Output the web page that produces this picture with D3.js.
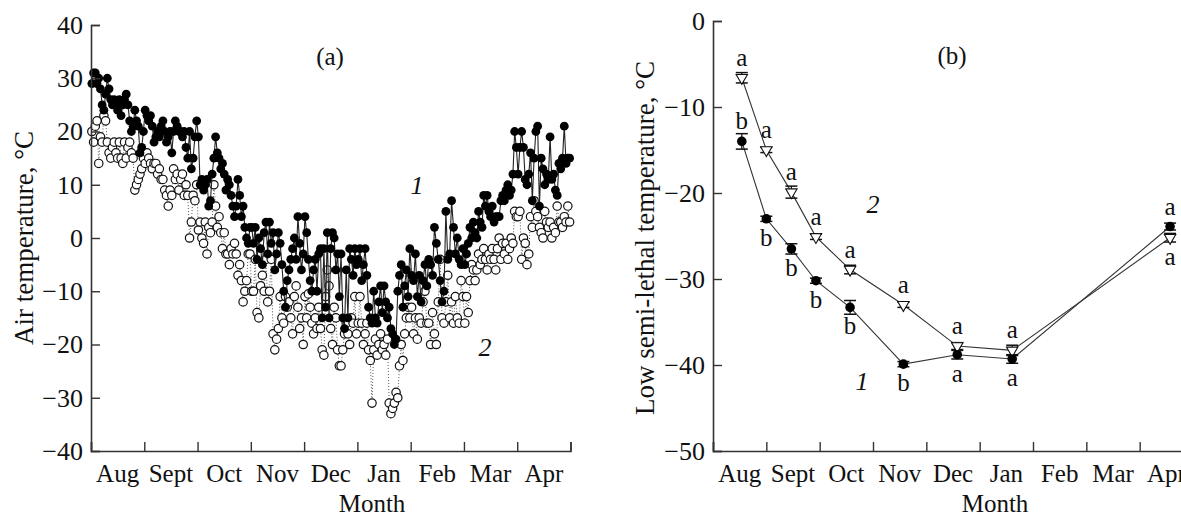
<!DOCTYPE html>
<html>
<head>
<meta charset="utf-8">
<script src="https://d3js.org/d3.v7.min.js"></script>
<style>
  body { margin: 0; background: white; }
  text { font-family: "Liberation Serif", "DejaVu Serif", serif; fill: #111; }
</style>
</head>
<body>
<script>
  // month labels shared by both panels
  const months = ["Aug", "Sept", "Oct", "Nov", "Dec", "Jan", "Feb", "Mar", "Apr"];

  // (a) daily maximum air temperature, one list per month
  const tMax = [
    [29, 31, 31, 29, 30, 28, 25, 24, 27, 30, 28, 26, 25, 26, 25, 24, 26, 23, 25, 26, 27, 25, 22, 20, 21, 24, 22, 21, 16, 17, 20],
    [24, 23, 22, 23, 21, 18, 19, 20, 19, 21, 22, 20, 18, 19, 20, 16, 20, 22, 21, 20, 20, 19, 20, 17, 15, 20, 13, 15, 19, 22],
    [19, 10, 11, 9, 10, 11, 6, 7, 12, 15, 19, 16, 15, 13, 14, 12, 9, 11, 10, 8, 6, 4, 6, 11, 8, 4, 6, 2, 0, -1, 2],
    [2, -1, 2, -4, 0, -2, -5, 1, 3, -3, 3, -1, 1, -6, -3, 1, -1, -5, -10, -13, -8, -6, -4, -2, 0, -4, 4, -1, -6, -3],
    [4, 1, -4, -8, -10, -6, -4, -10, -3, -2, -15, -2, -13, 1, -15, -2, 1, 0, -6, -3, -11, -3, -15, -17, -6, -15, -2, -4, -7, -2, -5],
    [-4, -2, -8, -5, -2, -7, -13, -15, -16, -10, -15, -16, -12, -9, -14, -9, -12, -15, -13, -17, -18, -20, -19, -10, -7, -5, -13, -9, -6, -11, -2],
    [-7, -8, -3, -11, -7, -12, -8, -5, -9, -4, -5, -7, 2, -1, -4, -8, -12, -10, 5, -4, -3, 7, 2, -3, 0, -4, -5, -2],
    [-5, -3, -1, 2, 0, 3, 1, 0, 5, 3, 2, 8, 6, 8, 5, 4, 6, 3, 4, 4, 4, 7, 8, 7, 9, 10, 8, 9, 12, 20, 17],
    [12, 17, 20, 17, 11, 10, 12, 16, 7, 15, 20, 21, 6, 15, 13, 10, 12, 11, 19, 11, 12, 9, 8, 14, 13, 15, 21, 14, 15, 15]
  ];

  // (a) daily minimum air temperature, one list per month
  const tMin = [
    [20, 18, 21, 22, 14, 19, 18, 23, 22, 18, 16, 15, 17, 18, 16, 15, 18, 15, 14, 18, 15, 17, 18, 16, 15, 9, 10, 11, 12, 13, 15],
    [14, 16, 15, 14, 13, 14, 14, 12, 13, 11, 11, 9, 8, 6, 9, 8, 13, 11, 12, 9, 11, 12, 8, 10, 8, 0, 3, 8, 7, 10],
    [1.5, 3, 0, -1, 3, -3, 2, 1, 3, 10, 6, 2, 4, 1, -2, 1, -3, -3, -5, -2, -3, -1, -3, -7, -5, -8, -12, -10, -8, -3, -3],
    [-10, -10, -4, -14, -15, -9, -7, -10, -4, -12, -10, -4, -18, -21, -19, -17, -11, -15, -16, -11, -13, -12, -15, -18, -11, -9, -13, -17, -15, -20],
    [-11, -15, -10.5, -13, -16, -18, -15, -17, -13, -17, -21, -22, -11, -6, -9, -17, -20, -13, -15, -21, -24, -24, -21, -18, -16, -18, -20, -15, -16, -11, -18],
    [-16, -11, -16, -20, -18, -16, -21, -23, -31, -21, -19, -22, -20, -18, -21, -20, -22, -19, -31, -33, -32, -31, -29, -30, -24, -20, -23, -18, -15, -13, -15],
    [-13, -18, -15, -19, -15, -16, -12, -10, -16, -16, -20, -14, -18, -20, -12, -4, -15, -16, -12, -7, -15, -12, -16, -11, -15, -16, -8, -11],
    [-16, -11, -14, -8, -5, -6, -8, -6, -3, -5, -4, -2, -4, -6, -3, -4, -2, -4, -6, -2, 0, -4, -1, -3, -1, -4, -2, 0, -1, 5, 4],
    [4, 5, -4, 0, -1, -5, -3, 4, 2, 7, 5, 4, 2, 1, 0, 5, 3, 2, 3, 0, 2, 1, 6, 3, 3, 2, 4, 3, 6, 3]
  ];

  // (b) sampling dates (months since 1 Aug) and low semi-lethal temperatures
  const sampleMonth = [0.54, 1.0, 1.47, 1.93, 2.57, 3.57, 4.58, 5.61, 8.57];
  const lethal1 = [-14, -23.0, -26.5, -30.2, -33.3, -39.9, -38.8, -39.3, -23.9];
  const lethal2 = [-6.6, -15.0, -19.9, -25.1, -28.9, -33.0, -37.8, -38.3, -25.2];
  const err1 = [0.9, 0.3, 0.6, 0.3, 0.8, 0.3, 0.5, 0.5, 0.4];
  const err2 = [0.6, 0.3, 0.7, 0.3, 0.5, 0.3, 0.4, 0.6, 0.5];
  const letters1 = ["b", "b", "b", "b", "b", "b", "a", "a", "a"];
  const letters2 = ["a", "a", "a", "a", "a", "a", "a", "a", "a"];
  const letterAbove1 = [true, false, false, false, false, false, false, false, true];
  const letterAbove2 = [true, true, true, true, true, true, true, true, false];

  const svg = d3.select("body").append("svg")
    .attr("width", 1181)
    .attr("height", 517);

  svg.append("rect").attr("width", 1181).attr("height", 517).attr("fill", "white");

  // flatten daily values into month positions
  function daily(series) {
    const out = [];
    series.forEach((vals, m) => {
      vals.forEach((v, i) => out.push({ m: m + (i + 0.5) / vals.length, v: v }));
    });
    return out;
  }

  function drawAxes(g, x, y, ticks) {
    const band = d3.scaleBand().domain(months).range(x.range());

    g.append("g")
      .attr("transform", "translate(0," + y.range()[0] + ")")
      .call(d3.axisBottom(x).tickValues(d3.range(0, 10)).tickSize(-9).tickFormat(""))
      .call(a => a.select(".domain").attr("stroke", "#333").attr("stroke-width", 1.6));

    g.append("g")
      .attr("transform", "translate(0," + y.range()[0] + ")")
      .call(d3.axisBottom(band).tickSize(0).tickPadding(13))
      .call(a => a.select(".domain").remove())
      .selectAll("text")
      .style("font-size", "25px")
      .attr("fill", "#111");

    g.append("g")
      .attr("transform", "translate(" + x.range()[0] + ",0)")
      .call(d3.axisLeft(y).tickValues(ticks).tickSize(-9).tickPadding(8)
        .tickFormat(d => d < 0 ? "\u2212" + Math.abs(d) : d))
      .call(a => a.select(".domain").attr("stroke", "#333").attr("stroke-width", 1.6))
      .selectAll("text")
      .style("font-size", "26px")
      .attr("fill", "#111");

    g.selectAll(".tick line").attr("stroke", "#333").attr("stroke-width", 1.4);
  }

  // ---------- panel (a) ----------
  const xa = d3.scaleLinear().domain([0, 9]).range([91, 570.5]);
  const ya = d3.scaleLinear().domain([-40, 40]).range([451, 25]);
  const ga = svg.append("g");

  const minPts = daily(tMin);
  const maxPts = daily(tMax);

  const lineA = d3.line().x(d => xa(d.m)).y(d => ya(d.v));

  ga.append("path")
    .attr("d", lineA(minPts))
    .attr("fill", "none")
    .attr("stroke", "#555")
    .attr("stroke-width", 1)
    .attr("stroke-dasharray", "1,2");

  ga.selectAll(".minpt").data(minPts).join("circle")
    .attr("class", "minpt")
    .attr("cx", d => xa(d.m))
    .attr("cy", d => ya(d.v))
    .attr("r", 4.2)
    .attr("fill", "white")
    .attr("stroke", "#111")
    .attr("stroke-width", 1.2);

  ga.append("path")
    .attr("d", lineA(maxPts))
    .attr("fill", "none")
    .attr("stroke", "#222")
    .attr("stroke-width", 1.1);

  ga.selectAll(".maxpt").data(maxPts).join("circle")
    .attr("class", "maxpt")
    .attr("cx", d => xa(d.m))
    .attr("cy", d => ya(d.v))
    .attr("r", 4.4)
    .attr("fill", "black");

  drawAxes(ga, xa, ya, d3.range(-40, 41, 10));

  ga.append("text")
    .attr("transform", "translate(33,238) rotate(-90)")
    .attr("text-anchor", "middle")
    .style("font-size", "27px")
    .text("Air temperature, \u00B0C");

  ga.append("text")
    .attr("x", 372).attr("y", 512)
    .attr("text-anchor", "middle")
    .style("font-size", "25px")
    .text("Month");

  ga.append("text")
    .attr("x", 330).attr("y", 65)
    .attr("text-anchor", "middle")
    .style("font-size", "25px")
    .text("(a)");

  ga.append("text")
    .attr("x", 417).attr("y", 194)
    .attr("text-anchor", "middle")
    .style("font-size", "26px")
    .style("font-style", "italic")
    .text("1");

  ga.append("text")
    .attr("x", 485).attr("y", 356)
    .attr("text-anchor", "middle")
    .style("font-size", "26px")
    .style("font-style", "italic")
    .text("2");

  // ---------- panel (b) ----------
  const xb = d3.scaleLinear().domain([0, 9]).range([713, 1193]);
  const yb = d3.scaleLinear().domain([-50, 0]).range([451, 21]);
  const gb = svg.append("g");

  drawAxes(gb, xb, yb, d3.range(-50, 1, 10));

  const lineB = d3.line().x((d, i) => xb(sampleMonth[i])).y(d => yb(d));

  [lethal1, lethal2].forEach(s => {
    gb.append("path")
      .attr("d", lineB(s))
      .attr("fill", "none")
      .attr("stroke", "#333")
      .attr("stroke-width", 1.1);
  });

  function errorBars(vals, errs) {
    vals.forEach((v, i) => {
      const cx = xb(sampleMonth[i]);
      const y0 = yb(v + errs[i]);
      const y1 = yb(v - errs[i]);
      gb.append("line").attr("x1", cx).attr("x2", cx).attr("y1", y0).attr("y2", y1)
        .attr("stroke", "#111").attr("stroke-width", 1.2);
      [y0, y1].forEach(yy => {
        gb.append("line").attr("x1", cx - 6).attr("x2", cx + 6).attr("y1", yy).attr("y2", yy)
          .attr("stroke", "#111").attr("stroke-width", 1.5);
      });
    });
  }
  errorBars(lethal2, err2);
  errorBars(lethal1, err1);

  const tri = d3.symbol().type(d3.symbolTriangle).size(56);
  gb.selectAll(".tri").data(lethal2).join("path")
    .attr("class", "tri")
    .attr("d", tri)
    .attr("transform", (d, i) => "translate(" + xb(sampleMonth[i]) + "," + yb(d) + ") rotate(180)")
    .attr("fill", "white")
    .attr("stroke", "#111")
    .attr("stroke-width", 1.1);

  gb.selectAll(".dot").data(lethal1).join("circle")
    .attr("class", "dot")
    .attr("cx", (d, i) => xb(sampleMonth[i]))
    .attr("cy", d => yb(d))
    .attr("r", 4.8)
    .attr("fill", "black");

  function letters(vals, labs, above) {
    gb.selectAll(null).data(vals).join("text")
      .attr("x", (d, i) => xb(sampleMonth[i]))
      .attr("y", (d, i) => yb(d) + (above[i] ? -12 : 27))
      .attr("text-anchor", "middle")
      .style("font-size", "25px")
      .text((d, i) => labs[i]);
  }
  letters(lethal1, letters1, letterAbove1);
  letters(lethal2, letters2, letterAbove2);

  gb.append("text")
    .attr("transform", "translate(654,238) rotate(-90)")
    .attr("text-anchor", "middle")
    .style("font-size", "27px")
    .text("Low semi-lethal temperature, \u00B0C");

  gb.append("text")
    .attr("x", 995).attr("y", 512)
    .attr("text-anchor", "middle")
    .style("font-size", "25px")
    .text("Month");

  gb.append("text")
    .attr("x", 952).attr("y", 64)
    .attr("text-anchor", "middle")
    .style("font-size", "25px")
    .text("(b)");

  gb.append("text")
    .attr("x", 873).attr("y", 213)
    .attr("text-anchor", "middle")
    .style("font-size", "26px")
    .style("font-style", "italic")
    .text("2");

  gb.append("text")
    .attr("x", 862).attr("y", 390)
    .attr("text-anchor", "middle")
    .style("font-size", "26px")
    .style("font-style", "italic")
    .text("1");
</script>
</body>
</html>
